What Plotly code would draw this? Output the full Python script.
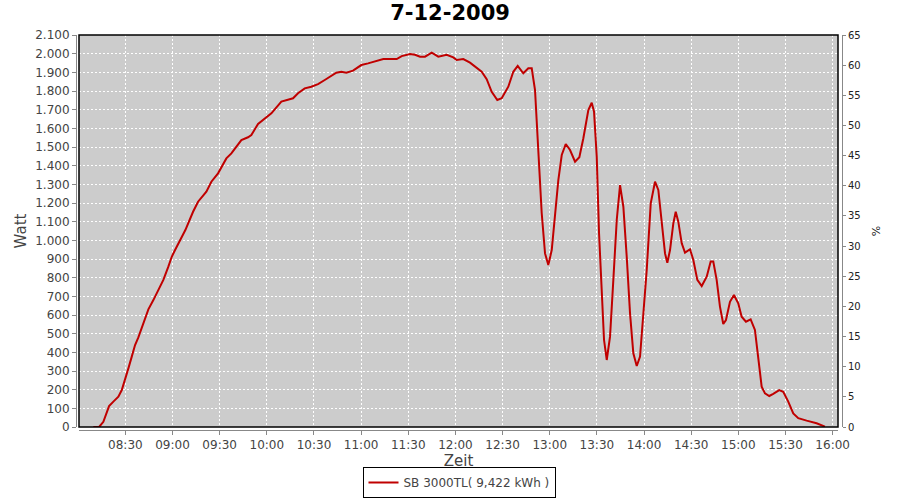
import plotly.graph_objects as go

DATE = "2009-12-07"
times = [
    "08:09:38", "08:13:16", "08:16:00", "08:19:38", "08:22:22", "08:25:33", "08:27:43", "08:29:49",
    "08:31:55", "08:34:04", "08:36:10", "08:38:16", "08:41:27", "08:44:38", "08:47:49", "08:51:00",
    "08:54:10", "08:57:21", "08:59:31", "09:01:37", "09:04:48", "09:08:10", "09:13:04", "09:16:15",
    "09:21:32", "09:24:43", "09:28:58", "09:34:15", "09:37:26", "09:43:48", "09:48:03", "09:50:09",
    "09:54:25", "09:58:41", "10:02:53", "10:09:14", "10:13:30", "10:16:41", "10:19:51", "10:24:07",
    "10:28:19", "10:32:35", "10:36:51", "10:44:13", "10:47:24", "10:50:35", "10:54:51", "11:00:08",
    "11:04:24", "11:09:56", "11:14:07", "11:22:38", "11:25:49", "11:31:06", "11:34:17", "11:37:28",
    "11:40:39", "11:44:54", "11:49:06", "11:54:26", "11:58:38", "12:00:48", "12:05:00", "12:09:16",
    "12:16:42", "12:19:53", "12:23:04", "12:26:38", "12:29:26", "12:33:38", "12:36:49", "12:39:37",
    "12:43:11", "12:46:22", "12:48:32", "12:50:38", "12:52:06", "12:53:22", "12:54:54", "12:57:00",
    "12:59:06", "13:01:16", "13:03:22", "13:05:28", "13:07:38", "13:10:11", "13:12:55", "13:16:06",
    "13:18:50", "13:21:23", "13:24:33", "13:26:43", "13:28:11", "13:29:54", "13:31:22", "13:33:05",
    "13:34:33", "13:36:16", "13:38:22", "13:40:28", "13:42:38", "13:44:44", "13:46:50", "13:48:59",
    "13:51:05", "13:53:11", "13:55:21", "13:57:27", "13:59:33", "14:01:42", "14:04:15", "14:06:59",
    "14:09:05", "14:11:15", "14:13:21", "14:14:49", "14:16:32", "14:18:38", "14:20:09", "14:21:48",
    "14:23:58", "14:26:04", "14:29:15", "14:31:21", "14:33:54", "14:36:41", "14:39:52", "14:42:24",
    "14:44:03", "14:46:12", "14:48:18", "14:50:24", "14:52:07", "14:54:40", "14:57:12", "14:59:56",
    "15:02:06", "15:04:50", "15:07:49", "15:10:33", "15:12:40", "15:14:50", "15:16:56", "15:19:40",
    "15:22:12", "15:26:01", "15:28:34", "15:31:45", "15:34:56", "15:38:07", "15:43:27", "15:49:48",
    "15:55:06",
]
watts = [
    0, 0, 28, 112, 136, 162, 198, 252,
    314, 377, 439, 480, 555, 630, 680, 734,
    788, 859, 912, 948, 1000, 1055, 1153, 1207,
    1261, 1314, 1359, 1439, 1466, 1537, 1552, 1564,
    1623, 1654, 1680, 1743, 1752, 1761, 1788, 1814,
    1823, 1837, 1859, 1898, 1903, 1898, 1909, 1939,
    1948, 1961, 1971, 1971, 1987, 1998, 1994, 1984,
    1984, 2005, 1984, 1994, 1980, 1966, 1971, 1952,
    1903, 1863, 1796, 1752, 1761, 1823, 1903, 1934,
    1895, 1922, 1922, 1805, 1573, 1359, 1145, 930,
    868, 948, 1145, 1323, 1457, 1516, 1484, 1421,
    1445, 1547, 1698, 1737, 1689, 1448, 1038, 716,
    466, 359, 484, 788, 1109, 1296, 1180, 912,
    609, 395, 327, 377, 591, 841, 1198, 1314,
    1270, 1109, 930, 880, 948, 1091, 1153, 1100,
    984, 934, 952, 895, 788, 755, 805, 886,
    886, 788, 645, 552, 573, 671, 707, 663,
    591, 564, 577, 520, 359, 216, 180, 166,
    177, 198, 189, 136, 73, 47, 34, 20,
    2,
]
series_name = "SB 3000TL( 9,422 kWh )"
title_text = "7-12-2009"
x_title = "Zeit"
y_title = "Watt"
y2_title = "%"
watt_ticks = list(range(0, 2101, 100))
pct_ticks = list(range(0, 66, 5))

x = [f"{DATE} {t}" for t in times]

FONT = "DejaVu Sans"
W, H = 900, 500
ml, mr, mt, mb = 76, 900 - 842, 35, 500 - 430
pw, ph = W - ml - mr, H - mt - mb
xd0 = (79 - ml) / pw
xd1 = (838 - ml) / pw
yd0 = (430 - 427) / ph

fig = go.Figure()
fig.add_trace(go.Scatter(
    x=x, y=watts, mode="lines", name=series_name,
    line=dict(color="#C00000", width=2), showlegend=True,
))
fig.add_trace(go.Scatter(
    x=[x[0]], y=[0], yaxis="y2", mode="markers", marker=dict(opacity=0),
    showlegend=False, hoverinfo="skip",
))

GRID = dict(showgrid=True, gridcolor="white", griddash="2px,2px", gridwidth=1)

fig.update_layout(
    width=W, height=H,
    margin=dict(l=ml, r=mr, t=mt, b=mb, autoexpand=False),
    paper_bgcolor="white", plot_bgcolor="#CCCCCC",
    separators=",.",
    font=dict(family=FONT, color="#444444", size=12),
    title=dict(text=f"<b>{title_text}</b>", x=0.5, xanchor="center", y=1 - 13 / H,
               yanchor="middle", yref="container", automargin=False,
               font=dict(family=FONT, size=21, color="black")),
    xaxis=dict(
        type="date", domain=[xd0, xd1], anchor="free", position=0, automargin=False,
        range=[f"{DATE} 08:00:30", f"{DATE} 16:03:24"],
        tick0=f"{DATE} 08:00", dtick=30 * 60 * 1000, tickformat="%H:%M",
        **GRID,
        showline=True, linecolor="#888888", linewidth=1,
        ticks="outside", ticklen=4, tickcolor="#888888",
        tickfont=dict(size=12, color="#444444"),
        title=dict(text=x_title, font=dict(size=15, color="#444444"), standoff=4),
        zeroline=False,
    ),
    yaxis=dict(
        domain=[yd0, 1], anchor="free", position=0, automargin=False,
        range=[0, 2100], tickvals=watt_ticks, tickformat=",d",
        **GRID,
        showline=True, linecolor="#888888", linewidth=1,
        ticks="outside", ticklen=4, tickcolor="#888888",
        tickfont=dict(size=12, color="#444444"),
        title=dict(text=y_title, font=dict(size=15, color="#444444"), standoff=3),
        zeroline=False,
    ),
    yaxis2=dict(
        overlaying="y", side="right", anchor="free", position=1, automargin=False,
        range=[0, 65], tickvals=pct_ticks,
        showgrid=False, showline=True, linecolor="#888888", linewidth=1,
        ticks="outside", ticklen=3, tickcolor="#888888",
        tickfont=dict(size=10, color="#222222"),
        title=dict(text=y2_title, font=dict(size=11, color="#222222"), standoff=12),
        zeroline=False,
    ),
    legend=dict(
        orientation="h", x=0.5, xanchor="center", y=-(498 - 430) / ph, yanchor="bottom",
        bordercolor="black", borderwidth=1, bgcolor="white",
        font=dict(size=12, color="#444444"),
        itemwidth=30,
    ),
    shapes=[dict(type="rect", xref="paper", yref="paper", x0=xd0, x1=xd1, y0=yd0, y1=1,
                 line=dict(color="black", width=1.5), fillcolor="rgba(0,0,0,0)", layer="above")],
    showlegend=True,
)

fig.write_html("out.html", config={"displayModeBar": False},
               post_script="document.body.style.margin='0';")
